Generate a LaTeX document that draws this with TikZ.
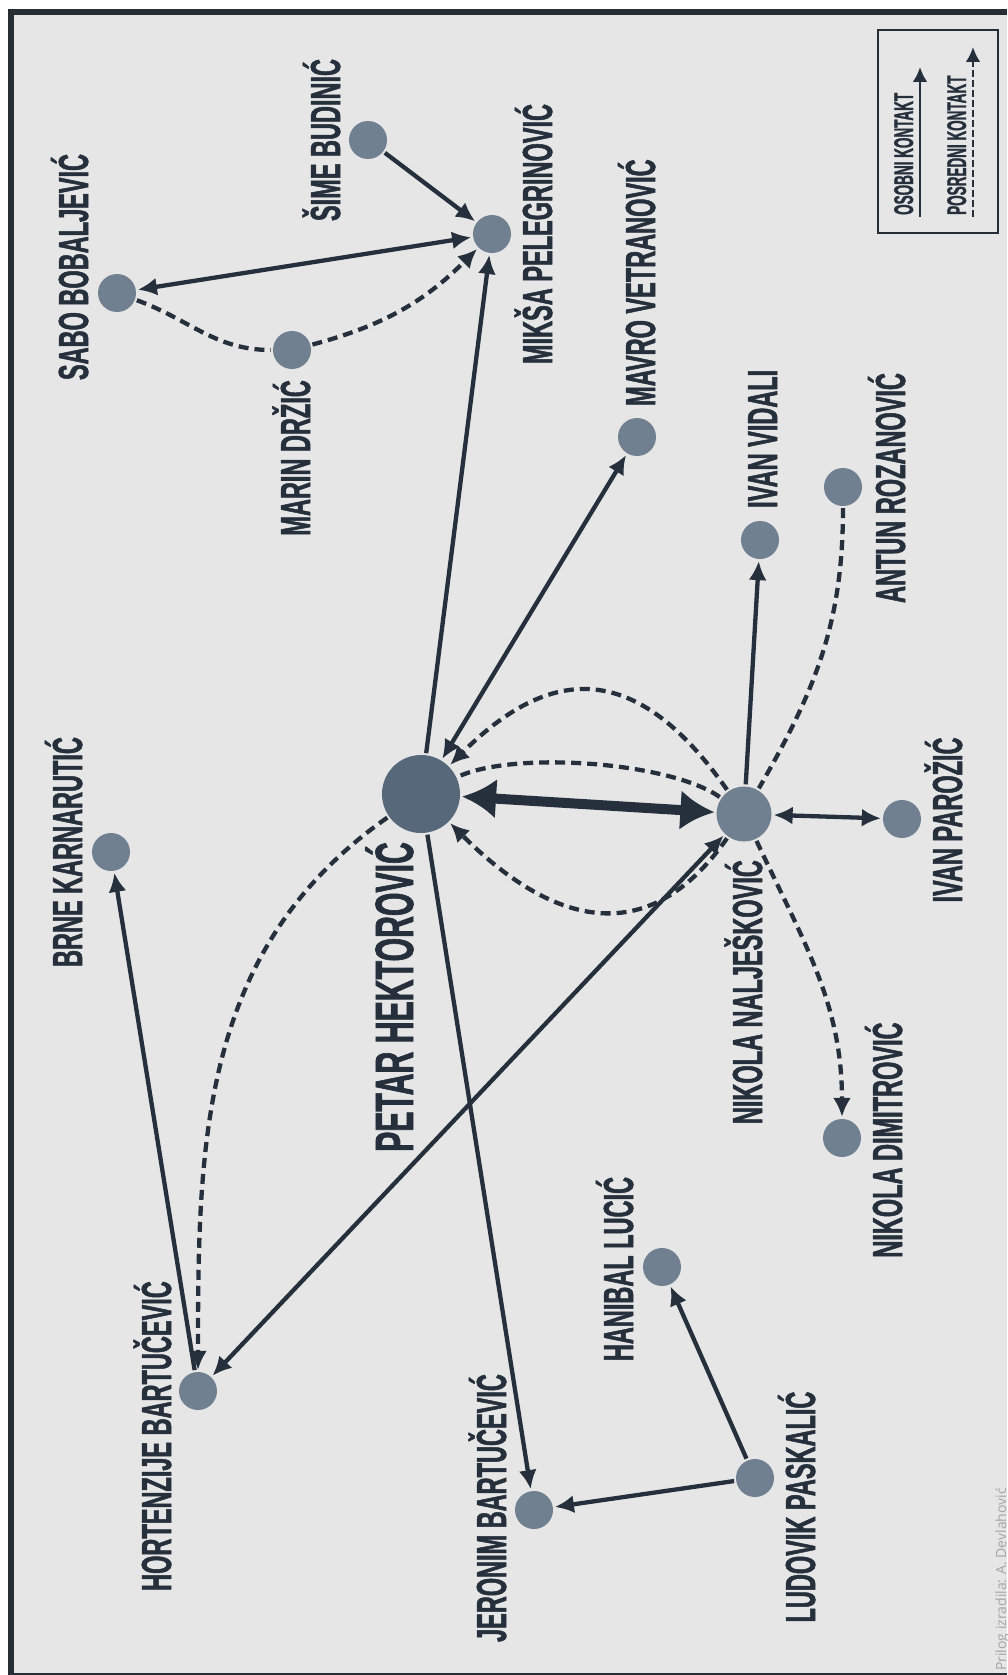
\documentclass[tikz,border=0pt]{standalone}
\usepackage{fontspec}
\newfontfamily\namefont[FakeStretch=0.56,FakeBold=1.2]{Liberation Sans}
\newfontfamily\keyfont[FakeStretch=0.5,FakeBold=1.2]{Liberation Sans}
\newfontfamily\notefont{Open Sans}
\usepackage{tikz}
\usetikzlibrary{arrows.meta}
\definecolor{cBg}{RGB}{230, 230, 230}
\definecolor{cFrame}{RGB}{38, 46, 52}
\definecolor{cLine}{RGB}{38, 48, 60}
\definecolor{cMain}{RGB}{86, 104, 122}
\definecolor{cNode}{RGB}{112, 128, 144}
\definecolor{cNote}{RGB}{165, 165, 165}
\tikzstyle{Main}=[circle,
		minimum size = 78pt,
		inner sep = 0pt,
		fill=cMain]
\tikzstyle{Person}=[circle,
		minimum size = 38pt,
		inner sep = 0pt,
		fill=cNode]
\tikzstyle{Name}=[rotate=90,
		inner sep = 0pt,
		text=cLine,
		font=\namefont\bfseries\fontsize{42}{42}\selectfont]
\tikzstyle{indirect}=[dash pattern=on 10pt off 6pt]

\begin{document}
\begin{tikzpicture}[x=1pt,y=1pt,line width=4.3pt,draw=cLine,>={Latex[length=19pt,width=18pt]}]
  \fill[white] (0,0) rectangle (1007,-1675);
  \fill[cFrame] (8,-9) rectangle (1007,-1675);
  \fill[cBg] (14,-15) rectangle (1007,-1673);
  \useasboundingbox (0,0) rectangle (1007,-1675);

  \node [Main] (petar) at (421,-794) {};
  \node [Person,minimum size=55pt] (nikola) at (744,-814) {};
  \node [Person] (parozic) at (902,-819) {};
  \node [Person] (vidali) at (760,-540) {};
  \node [Person] (rozanovic) at (843,-487) {};
  \node [Person] (vetranovic) at (637,-437) {};
  \node [Person] (pelegrinovic) at (492,-234) {};
  \node [Person] (budinic) at (368,-140) {};
  \node [Person] (bobaljevic) at (117,-293) {};
  \node [Person] (drzic) at (292,-350) {};
  \node [Person] (karnarutic) at (111,-852) {};
  \node [Person] (hortenzije) at (198,-1391) {};
  \node [Person] (jeronim) at (534,-1510) {};
  \node [Person] (paskalic) at (755,-1478) {};
  \node [Person] (lucic) at (662,-1267) {};
  \node [Person] (dimitrovic) at (842,-1138) {};

  % personal contacts
  \draw[<->,line width=10pt,>={Latex[length=34pt,width=40pt]}] (petar) -- (nikola);
  \draw[->] (petar) -- (pelegrinovic);
  \draw[<->] (petar) -- (vetranovic);
  \draw[->] (petar) -- (jeronim);
  \draw[<->] (nikola) -- (hortenzije);
  \draw[->] (hortenzije) -- (karnarutic);
  \draw[->] (paskalic) -- (jeronim);
  \draw[->] (paskalic) -- (lucic);
  \draw[->] (nikola) -- (vidali);
  \draw[<->] (nikola) -- (parozic);
  \draw[->] (budinic) -- (pelegrinovic);
  \draw[<->] (bobaljevic) -- (pelegrinovic);

  % indirect contacts
  \draw[indirect,->] (petar) to[out=215,in=90] (hortenzije);
  \draw[indirect,->] (nikola) to[out=125,in=45,looseness=1.38] (petar);
  \draw[indirect,->] (nikola) to[out=235,in=-45,looseness=1.3] (petar);
  \draw[indirect] (nikola) to[out=145,in=25,looseness=0.6] (petar);
  \draw[indirect] (rozanovic) to[out=-90,in=60] (nikola);
  \draw[indirect,->] (nikola) to[out=-65,in=90] (dimitrovic);
  \draw[indirect,->] (bobaljevic) to[out=-20,in=180] (drzic) to[out=15,in=225] (pelegrinovic);

  % names
  \node [Name,anchor=base east,font=\namefont\bfseries\fontsize{54}{54}\selectfont] (lpetar) at (413,-840) {PETAR HEKTOROVIĆ};
  \node [Name,anchor=base east] (lnikola) at (762,-858) {NIKOLA NALJEŠKOVIĆ};
  \node [Name,anchor=base] (lparozic) at (962,-820) {IVAN PAROŽIĆ};
  \node [Name,anchor=base west] (lvidali) at (777,-510) {IVAN VIDALI};
  \node [Name,anchor=base] (lrozanovic) at (905,-488) {ANTUN ROZANOVIĆ};
  \node [Name,anchor=base west] (lvetranovic) at (655,-408) {MAVRO VETRANOVIĆ};
  \node [Name,anchor=base] (lpelegrinovic) at (552,-234) {MIKŠA PELEGRINOVIĆ};
  \node [Name,anchor=base] (lbudinic) at (340,-140) {ŠIME BUDINIĆ};
  \node [Name,anchor=base] (lbobaljevic) at (88,-267) {SABO BOBALJEVIĆ};
  \node [Name,anchor=base east] (ldrzic) at (310,-378) {MARIN DRŽIĆ};
  \node [Name,anchor=base] (lkarnarutic) at (82,-852) {BRNE KARNARUTIĆ};
  \node [Name,anchor=base] (lhortenzije) at (171,-1436) {HORTENZIJE BARTUČEVIĆ};
  \node [Name,anchor=base] (ljeronim) at (506,-1508) {JERONIM BARTUČEVIĆ};
  \node [Name,anchor=base] (lpaskalic) at (815,-1507) {LUDOVIK PASKALIĆ};
  \node [Name,anchor=base] (llucic) at (633,-1269) {HANIBAL LUCIĆ};
  \node [Name,anchor=base] (ldimitrovic) at (902,-1140) {NIKOLA DIMITROVIĆ};

  % legend
  \node [draw=cFrame,line width=1.3pt,minimum width=120pt,minimum height=203pt,inner sep=0pt] (legend) at (938,-131.5) {};
  \coordinate (osobni0) at (920,-217);
  \coordinate (osobni1) at (920,-67);
  \coordinate (posredni0) at (973,-217);
  \coordinate (posredni1) at (973,-47);
  \draw[line width=2.8pt,-{Latex[length=15pt,width=15pt]}] (osobni0) -- (osobni1);
  \draw[line width=2.8pt,dash pattern=on 7pt off 3pt,-{Latex[length=15pt,width=15pt]}] (posredni0) -- (posredni1);
  \node [Name,anchor=base west,font=\keyfont\bfseries\fontsize{27}{27}\selectfont] (losobni) at (913,-217) {OSOBNI KONTAKT};
  \node [Name,anchor=base west,font=\keyfont\bfseries\fontsize{27}{27}\selectfont] (lposredni) at (966,-217) {POSREDNI KONTAKT};

  \node [rotate=90,anchor=base west,inner sep=0pt,text=cNote,font=\notefont\fontsize{14}{14}\selectfont] (credit) at (1006,-1673) {Prilog izradila: A. Devlahović};
\end{tikzpicture}
\end{document}
